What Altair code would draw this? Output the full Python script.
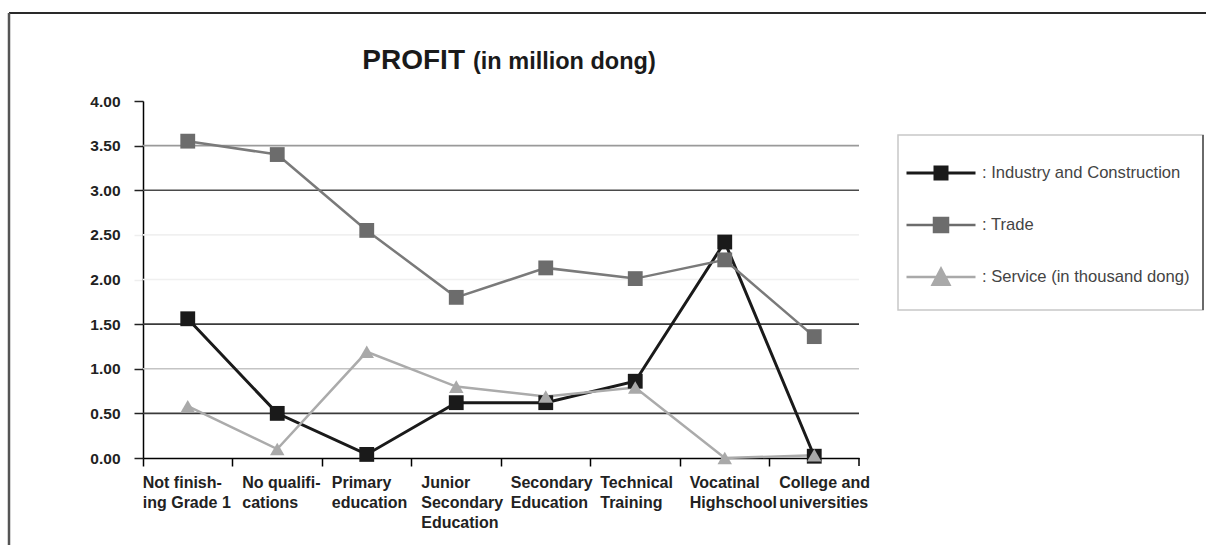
import altair as alt
import pandas as pd

# ---------------- data ----------------
categories = [
    "Not finish-\ning Grade 1",
    "No qualifi-\ncations",
    "Primary\neducation",
    "Junior\nSecondary\nEducation",
    "Secondary\nEducation",
    "Technical\nTraining",
    "Vocatinal\nHighschool",
    "College and\nuniversities",
]
series_names = ["Industry and Construction", "Trade", "Service (in thousand dong)"]
industry = [1.56, 0.50, 0.04, 0.62, 0.62, 0.86, 2.42, 0.02]
trade = [3.55, 3.40, 2.55, 1.80, 2.13, 2.01, 2.22, 1.36]
service = [0.58, 0.10, 1.19, 0.80, 0.69, 0.79, 0.00, 0.03]

line_colors = ["#1a1a1a", "#7a7a7a", "#ababab"]
marker_colors = ["#1a1a1a", "#6c6c6c", "#a9a9a9"]
line_widths = [3, 2.5, 2.5]

grid_values = [0.5, 1.0, 1.5, 2.0, 2.5, 3.0, 3.5]
grid_colors = ["#3a3a3a", "#c4c4c4", "#3a3a3a", "#f0f0f0", "#f0f0f0", "#4a4a4a", "#9a9a9a"]

y_ticks = [0, 0.5, 1.0, 1.5, 2.0, 2.5, 3.0, 3.5, 4.0]

# legend symbols: line + marker drawn as filled custom paths
legend_paths = [
    "M-2.3,-0.1H2.3V0.1H-2.3Z M-0.5,-0.5H0.5V0.5H-0.5Z",
    "M-2.3,-0.08H2.3V0.08H-2.3Z M-0.55,-0.55H0.55V0.55H-0.55Z",
    "M-2.3,-0.08H2.3V0.08H-2.3Z M0,-0.73L0.7,0.6H-0.7Z",
]

rows = []
for s, vals, lc, mc, lw in zip(series_names, [industry, trade, service], line_colors, marker_colors, line_widths):
    for i, (c, v) in enumerate(zip(categories, vals)):
        rows.append({"category": c, "series": s, "value": v, "lc": lc, "mc": mc, "lw": lw, "idx": i})
df = pd.DataFrame(rows)
grid_df = pd.DataFrame({"gv": grid_values, "gc": grid_colors})
one = pd.DataFrame({"k": [0]})

FONT = "Liberation Sans"

x_axis = alt.Axis(
    title=None,
    bandPosition=0,
    domainColor="black",
    domainWidth=1.5,
    tickColor="black",
    tickWidth=1.5,
    tickSize=8,
    labelAngle=0,
    labelAlign="left",
    labelBaseline="top",
    labelPadding=8,
    labelLineHeight=20,
    labelFont=FONT,
    labelFontSize=16,
    labelFontWeight="bold",
    labelColor="#222222",
    labelOverlap=False,
    labelExpr="split(datum.label, '\\n')",
    labelOffset={"condition": {"test": "indexof(datum.value, 'Not finish') == 0", "value": -45}, "value": -35},
)
y_axis = alt.Axis(
    title=None,
    values=y_ticks,
    format=".2f",
    grid=False,
    domainColor="black",
    domainWidth=1.5,
    tickColor={"condition": {"test": "datum.value == 2 || datum.value == 2.5", "value": "#eeeeee"}, "value": "#222222"},
    tickWidth=1.5,
    tickSize=9,
    labelPadding=14,
    labelFont=FONT,
    labelFontSize=15.5,
    labelFontWeight="bold",
    labelColor="#222222",
)

x_enc = alt.X("category:N", sort=categories,
              scale=alt.Scale(type="band", paddingInner=0, paddingOuter=0), axis=x_axis)
y_scale = alt.Scale(domain=[0, 4], nice=False)
y_enc = alt.Y("value:Q", scale=y_scale, axis=y_axis)

grid = alt.Chart(grid_df).mark_rule(strokeWidth=1.6).encode(
    y=alt.Y("gv:Q", scale=y_scale, axis=y_axis),
    color=alt.Color("gc:N", scale=None),
)

lines = alt.Chart(df).mark_line().encode(
    x=x_enc, y=y_enc,
    color=alt.Color("lc:N", scale=None),
    strokeWidth=alt.StrokeWidth("lw:Q", scale=None),
    detail="series:N",
    order="idx:Q",
)

squares = alt.Chart(df).transform_filter(
    alt.datum.series != series_names[2]
).mark_square(size=220, opacity=1).encode(
    x=x_enc, y=y_enc,
    color=alt.Color("mc:N", scale=None),
)

triangles = alt.Chart(df).transform_filter(
    alt.datum.series == series_names[2]
).mark_point(shape="triangle-up", filled=True, size=210, opacity=1).encode(
    x=x_enc, y=y_enc,
    color=alt.Color("mc:N", scale=None),
)

leg = alt.Legend(
    title=None,
    orient="none",
    legendX=755,
    legendY=29,
    symbolSize=900,
    symbolStrokeWidth=0,
    padding=28,
    rowPadding=28,
    labelOffset=26,
    labelFont=FONT,
    labelFontSize=16.6,
    labelColor="#444444",
    labelExpr="':  ' + datum.label",
    labelLimit=400,
)

legend_layer = alt.Chart(df).transform_filter("datum.value < -1").mark_point(filled=True, opacity=1).encode(
    x=x_enc, y=y_enc,
    fill=alt.Fill("series:N", scale=alt.Scale(domain=series_names, range=marker_colors), legend=leg),
    shape=alt.Shape("series:N", scale=alt.Scale(domain=series_names, range=legend_paths), legend=leg),
)

legend_frame = alt.Chart(one).mark_rect(fill="white", stroke="#c8c8c8", strokeWidth=1.5).encode(
    x=alt.value(755), x2=alt.value(1060), y=alt.value(34), y2=alt.value(209))
legend_frame_right = alt.Chart(one).mark_rule(color="#6a6a6a", strokeWidth=2).encode(
    x=alt.value(1060), y=alt.value(34), y2=alt.value(209))

title1 = alt.Chart(one).mark_text(
    text="PROFIT", align="right", baseline="alphabetic", font=FONT, fontSize=28, fontWeight="bold", color="#1a1a1a"
).encode(x=alt.value(322), y=alt.value(-32))
title2 = alt.Chart(one).mark_text(
    text="(in million dong)", align="left", baseline="alphabetic", font=FONT, fontSize=23.5, fontWeight="bold", color="#1a1a1a"
).encode(x=alt.value(330), y=alt.value(-32))

border_top = alt.Chart(one).mark_rule(color="#2a2a2a", strokeWidth=2).encode(
    x=alt.value(-134), x2=alt.value(1063), y=alt.value(-88))
border_left = alt.Chart(one).mark_rule(color="#555555", strokeWidth=2.5).encode(
    x=alt.value(-134), y=alt.value(-88), y2=alt.value(444))
end_tick = alt.Chart(one).mark_rule(color="black", strokeWidth=1.5).encode(
    x=alt.value(716), y=alt.value(357), y2=alt.value(365))

chart = alt.layer(
    legend_frame, legend_frame_right, grid, lines, squares, triangles, legend_layer,
    title1, title2, border_top, border_left, end_tick
).properties(
    width=716,
    height=357,
    padding={"left": 143, "top": 101, "right": 347, "bottom": 87},
    autosize=alt.AutoSizeParams(type="none"),
    background="white",
).configure_view(stroke=None)

chart.save("out.html", embed_options={"renderer": "svg", "actions": False})
